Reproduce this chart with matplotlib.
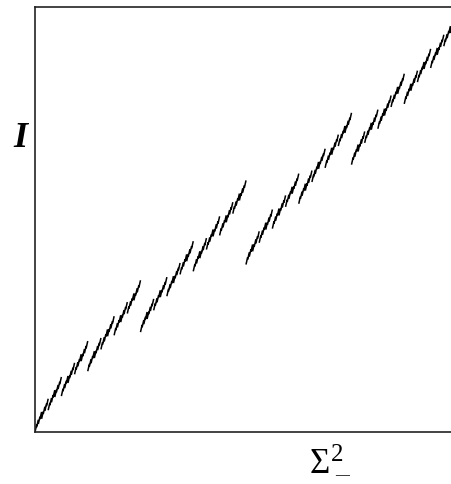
import numpy as np
import matplotlib
matplotlib.use("Agg")
import matplotlib.pyplot as plt

# ---- data (y in units of the axis height) ----
# size of the downward jump at each dyadic level:
# level 0 at x=1/2, level 1 at x=1/4,3/4, level 2 at odd/8, ...
level_jumps = [0.198, 0.122, 0.071, 0.045, 0.027, 0.0165, 0.0101, 0.0061]
end_value = 0.986          # value of I reached at the right end (x -> 1)
x_label_main = "Σ"
x_label_sup = "2"
x_label_sub = "—"
y_label = "I"

# ---- build the staircase from the read values ----
L = len(level_jumps)
N = 2 ** L
drop_sum = sum((2 ** k) * d for k, d in enumerate(level_jumps))
slope = end_value + drop_sum

def level_of(j):
    m = 0
    while j % 2 == 0:
        j //= 2
        m += 1
    return L - m - 1

cum = 0.0
xs, ys = [], []
for i in range(N):
    if i > 0:
        cum += level_jumps[level_of(i)]
    x0, x1 = i / N, (i + 1) / N
    xs += [x0, x1, np.nan]
    ys += [slope * x0 - cum, slope * x1 - cum, np.nan]

# ---- figure ----
W, H = 452, 484
fig = plt.figure(figsize=(W / 100, H / 100), dpi=100)
ax = fig.add_axes([35 / W, (H - 432) / H, (457 - 35) / W, (432 - 7) / H])
ax.plot(xs, ys, color="black", lw=1.1, solid_capstyle="butt")
ax.set_xlim(0, 1)
ax.set_ylim(0, 1)
ax.set_xticks([])
ax.set_yticks([])
for s in ax.spines.values():
    s.set_linewidth(1.2)
    s.set_color("#222222")

serif = "Liberation Serif"
fig.text(20 / W, 1 - 147 / H, y_label, family=serif,
         style="italic", weight="bold", fontsize=26, ha="center", va="baseline")
fig.text(310 / W, 1 - 473 / H, x_label_main, family=serif, fontsize=25,
         ha="left", va="baseline")
fig.text(331 / W, 1 - 461 / H, x_label_sup, family=serif, fontsize=18,
         ha="left", va="baseline")
fig.text(342 / W, 1 - 476 / H, x_label_sub, family=serif, fontsize=10,
         weight="bold", ha="center", va="center")

fig.savefig("out.png", dpi=100)
